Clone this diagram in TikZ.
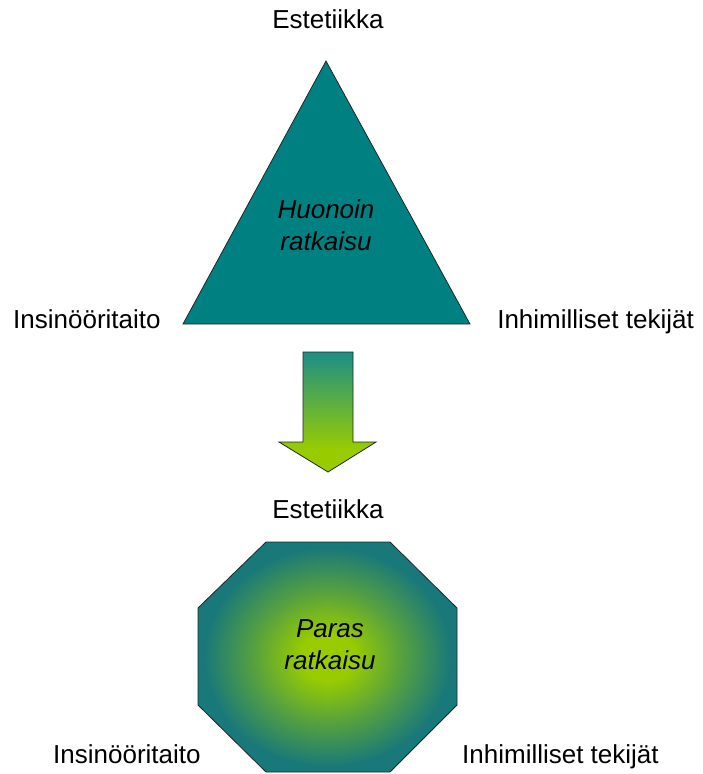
\documentclass[tikz,border=0pt]{standalone}
\usepackage{fontspec}
\setmainfont{Liberation Sans}
\usetikzlibrary{positioning}
\definecolor{worstfill}{RGB}{0,128,128}
\definecolor{tealedge}{RGB}{24,120,122}
\definecolor{arrowtop}{RGB}{22,140,140}
\definecolor{lime}{RGB}{153,204,0}
\definecolor{outline}{RGB}{30,40,40}
\pgfdeclareradialshading{glow}{\pgfpoint{0bp}{0bp}}{%
  color(0bp)=(lime); color(5bp)=(lime);
  color(14bp)=(lime!50!tealedge); color(24bp)=(tealedge); color(50bp)=(tealedge)}
\pgfdeclareverticalshading{drop}{100bp}{%
  color(0bp)=(lime); color(34bp)=(lime); color(77bp)=(arrowtop); color(100bp)=(arrowtop)}

\begin{document}
\begin{tikzpicture}[x=1pt,y=-1pt,
      lbl/.style={inner sep=0pt,font=\fontsize{26}{32}\selectfont},
      inner/.style={inner sep=0pt,align=center,font=\fontsize{26}{32}\selectfont\itshape},
      outlined/.style={draw=outline,line width=0.8pt,line join=miter}]
    \useasboundingbox (0,0) rectangle (702,774);
    % worst case
    \coordinate (apex) at (326,61);
    \coordinate (bl) at (183,324);
    \coordinate (br) at (470,324);
    \filldraw[outlined,fill=worstfill] (apex) -- (br) -- (bl) -- cycle;
    \node[inner] (worst) at (326,225) {Huonoin\\ratkaisu};
    \node[lbl,anchor=base] (topEst) at (328,28) {Estetiikka};
    \node[lbl,anchor=base west] (topIns) at (13,328) {Insinööritaito};
    \node[lbl,anchor=base east] (topInh) at (694,328) {Inhimilliset tekijät};
    % arrow
    \draw[outlined,shading=drop] (303,352) -- (353,352) -- (353,442) -- (376,442)
      -- (328,472) -- (279,442) -- (303,442) -- cycle;
    % best case
    \draw[outlined,shading=glow] (266,542) -- (390,542) -- (457,608) -- (457,705)
      -- (390,772) -- (266,772) -- (198,705) -- (198,608) -- cycle;
    \node[inner] (best) at (330,645) {Paras\\ratkaisu};
    \node[lbl,anchor=base] (botEst) at (328,518) {Estetiikka};
    \node[lbl,anchor=base west] (botIns) at (53,763) {Insinööritaito};
    \node[lbl,anchor=base west] (botInh) at (462,763) {Inhimilliset tekijät};
  \end{tikzpicture}
\end{document}
